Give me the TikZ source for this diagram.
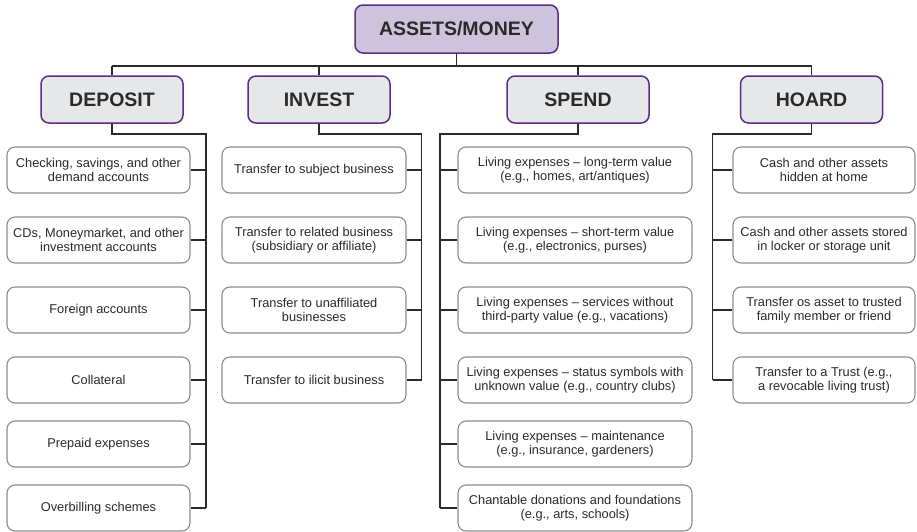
\documentclass[tikz,border=0pt]{standalone}
\usepackage{fontspec}
\setmainfont{Liberation Sans}
\usetikzlibrary{positioning}

\definecolor{plum}{HTML}{5B2D86}
\definecolor{lilac}{HTML}{CEC3DD}
\definecolor{cloud}{HTML}{E6E7E9}
\definecolor{ink}{HTML}{2A2A2A}
\definecolor{rim}{HTML}{8C8C8C}

\tikzset{
    rootbox/.style={draw=plum, fill=lilac, line width=1.5pt, rounded corners=8pt,
        minimum width=203pt, minimum height=48pt, inner sep=0pt, text=ink,
        font=\fontsize{19.5}{23}\selectfont\bfseries},
    catbox/.style={draw=plum, fill=cloud, line width=1.5pt, rounded corners=8pt,
        minimum width=142pt, minimum height=47pt, inner sep=0pt, text=ink,
        font=\fontsize{19.5}{23}\selectfont\bfseries},
    leafbox/.style={draw=rim, fill=white, line width=1.1pt, rounded corners=8pt,
        minimum height=46pt, inner sep=0pt, align=center, text=ink,
        font=\fontsize{12.8}{14.6}\selectfont},
    link/.style={draw=ink, line width=1.5pt}
}

\begin{document}
\begin{tikzpicture}[x=1pt, y=-1pt]
    \useasboundingbox (0,0) rectangle (917,531);

    % Top level
    \node[rootbox] (root) at (456.5,29) {ASSETS/MONEY};
    \coordinate (bus) at (456.5,66);

    \node[catbox] (dep)   at (112,99.5)   {DEPOSIT};
    \node[catbox] (inv)   at (319,99.5)   {INVEST};
    \node[catbox] (spend) at (578,99.5)   {SPEND};
    \node[catbox] (hoard) at (811.5,99.5) {HOARD};

    \draw[link] (root.south) -- (bus);
    \draw[link] (dep.north |- bus) -- (hoard.north |- bus);
    \foreach \c in {dep, inv, spend, hoard}
        \draw[link] (\c.north) -- (\c.north |- bus);

    % Deposit
    \foreach \n/\y/\txt in {1/170/{Checking, savings, and other\\demand accounts},
                            2/240/{CDs, Moneymarket, and other\\investment accounts},
                            3/310/{Foreign accounts},
                            4/380/{Collateral},
                            5/444/{Prepaid expenses},
                            6/508/{Overbilling schemes}}
        \node[leafbox, minimum width=183pt] (dep\n) at (98.5,\y) {\txt};
    \coordinate (deprail) at (206,134);
    \draw[link] (dep.south) |- (deprail) -- (deprail |- dep6.east);
    \foreach \n in {1,...,6}
        \draw[link] (dep\n.east) -- (dep\n.east -| deprail);

    % Invest
    \foreach \n/\y/\txt in {1/170/{Transfer to subject business},
                            2/240/{Transfer to related business\\(subsidiary or affiliate)},
                            3/310/{Transfer to unaffiliated\\businesses},
                            4/380/{Transfer to ilicit business}}
        \node[leafbox, minimum width=184pt] (inv\n) at (314,\y) {\txt};
    \coordinate (invrail) at (421.5,134);
    \draw[link] (inv.south) |- (invrail) -- (invrail |- inv4.east);
    \foreach \n in {1,...,4}
        \draw[link] (inv\n.east) -- (inv\n.east -| invrail);

    % Spend
    \foreach \n/\y/\txt in {1/170/{Living expenses – long-term value\\(e.g., homes, art/antiques)},
                            2/240/{Living expenses – short-term value\\(e.g., electronics, purses)},
                            3/310/{Living expenses – services without\\third-party value (e.g., vacations)},
                            4/380/{Living expenses – status symbols with\\unknown value (e.g., country clubs)},
                            5/444/{Living expenses – maintenance\\(e.g., insurance, gardeners)},
                            6/508/{Chantable donations and foundations\\(e.g., arts, schools)}}
        \node[leafbox, minimum width=234pt] (spend\n) at (575,\y) {\txt};
    \coordinate (spendrail) at (440,134);
    \draw[link] (spend.south) |- (spendrail) -- (spendrail |- spend6.west);
    \foreach \n in {1,...,6}
        \draw[link] (spend\n.west) -- (spend\n.west -| spendrail);

    % Hoard
    \foreach \n/\y/\txt in {1/170/{Cash and other assets\\hidden at home},
                            2/240/{Cash and other assets stored\\in locker or storage unit},
                            3/310/{Transfer os asset to trusted\\family member or friend},
                            4/380/{Transfer to a Trust (e.g.,\\a revocable living trust)}}
        \node[leafbox, minimum width=182pt] (hoard\n) at (824,\y) {\txt};
    \coordinate (hoardrail) at (712.5,134);
    \draw[link] (hoard.south) |- (hoardrail) -- (hoardrail |- hoard4.west);
    \foreach \n in {1,...,4}
        \draw[link] (hoard\n.west) -- (hoard\n.west -| hoardrail);
\end{tikzpicture}
\end{document}
